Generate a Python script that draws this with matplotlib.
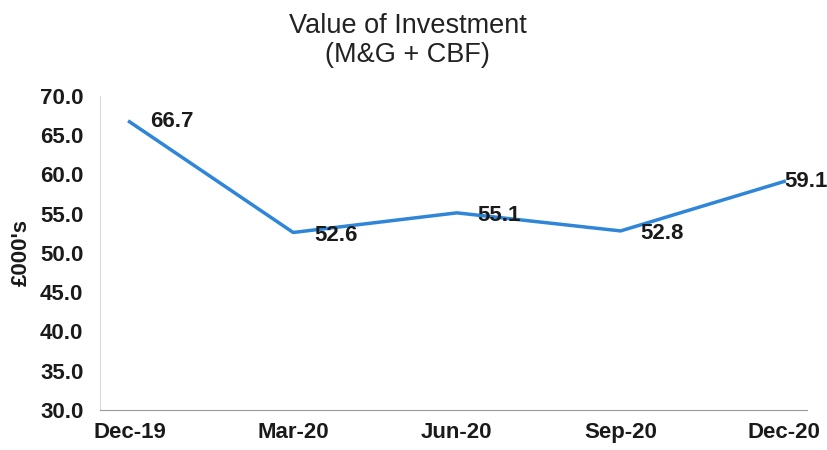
import matplotlib
matplotlib.use("Agg")
import matplotlib.pyplot as plt

categories = ["Dec-19", "Mar-20", "Jun-20", "Sep-20", "Dec-20"]
values = [66.7, 52.6, 55.1, 52.8, 59.1]
y_ticks = [30.0, 35.0, 40.0, 45.0, 50.0, 55.0, 60.0, 65.0, 70.0]

plt.rcParams['font.family'] = ['Liberation Sans', 'DejaVu Sans']

fig = plt.figure(figsize=(8.27, 4.5), dpi=100)
ax = fig.add_axes([0.121, 0.089, 0.855, 0.698])
x = list(range(len(categories)))
ax.plot(x, values, color="#2f86d8", linewidth=2.5)

offsets = [(15, 0), (15, -2), (15, -2), (14, -2), (0, 0)]
for xi, v, (dx, dy) in zip(x, values, offsets):
    ax.annotate(f"{v:.1f}", (xi, v), xytext=(dx, dy), textcoords="offset points",
                ha='left', va='center', fontsize=16, fontweight="bold", color="#1a1a1a")

ax.set_xlim(-0.18, 4.14)
ax.set_ylim(30, 70)
ax.set_yticks(y_ticks)
ax.set_yticklabels([f"{t:.1f}" for t in y_ticks])
ax.set_xticks(x)
ax.set_xticklabels(categories)
ax.tick_params(length=0, labelsize=16, colors="#1a1a1a")
for lab in ax.get_xticklabels() + ax.get_yticklabels():
    lab.set_fontweight("bold")
ax.tick_params(axis='x', pad=9)
ax.tick_params(axis='y', pad=12)
ax.set_ylabel("£000's", fontsize=16, fontweight="bold", color="#1a1a1a", labelpad=6)

for s in ["top", "right"]:
    ax.spines[s].set_visible(False)
ax.spines["left"].set_color("#d9d9d9")
ax.spines["bottom"].set_color("#999999")

fig.text(0.493, 0.909, "Value of Investment\n(M&G + CBF)", ha="center", va="center",
         fontsize=19.5, color="#222222", linespacing=1.15)

fig.savefig("out.png", dpi=100)
